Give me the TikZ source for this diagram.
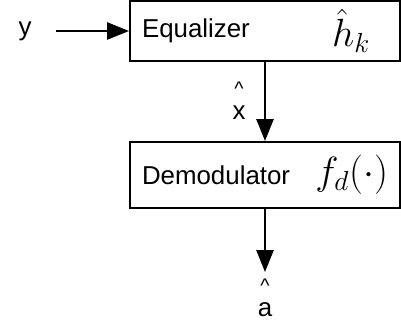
\RequirePackage{fix-cm}
\documentclass[tikz,border=0pt]{standalone}
\usepackage{fontspec}
\setmainfont{Liberation Sans}
\usetikzlibrary{arrows.meta, positioning}
\newcommand{\hatmark}{{\fontsize{14}{16}\selectfont\textasciicircum}}
\tikzset{
  every picture/.style={line width=1.4pt},
  box/.style={draw, rectangle, minimum width=6.75cm, inner sep=0pt},
  arrow/.style={-{Triangle[length=0.55cm, width=0.43cm]}, line width=1.4pt},
  txt/.style={font=\fontsize{18.4}{22}\selectfont, inner sep=0pt},
  sym/.style={font=\fontsize{28}{32}\selectfont, inner sep=0pt},
}
\begin{document}
\begin{tikzpicture}
  \useasboundingbox (0,0) rectangle (10.025,8.075);
  % blocks
  \node[box, minimum height=1.5cm] (eq) at (6.625,7.3) {};
  \node[box, minimum height=1.65cm] (dem) at (6.625,3.7) {};
  \node[txt, right=0.3cm of eq.west] (eqname) {Equalizer};
  \node[sym, left=0.75cm of eq.east] (eqsym) {$\hat{h}_k$};
  \node[txt, right=0.3cm of dem.west] (demname) {Demodulator};
  \node[sym, left=0.3cm of dem.east] (demsym) {$f_d(\cdot)$};

  % signals
  \node[txt] (yin) at (0.625,7.3) {y};
  \node[txt, align=center] (xhat) at (5.975,5.55) {\hatmark\\[-5pt]x};
  \node[txt, align=center, anchor=north, inner sep=4pt] (ahat) at (6.625,1.275) {\hatmark\\[-5pt]a};
  \draw[arrow, shorten <=0.58cm] (yin) -- (eq);
  \draw[arrow] (eq) -- (dem);
  \draw[arrow] (dem) -- (ahat);
\end{tikzpicture}
\end{document}
